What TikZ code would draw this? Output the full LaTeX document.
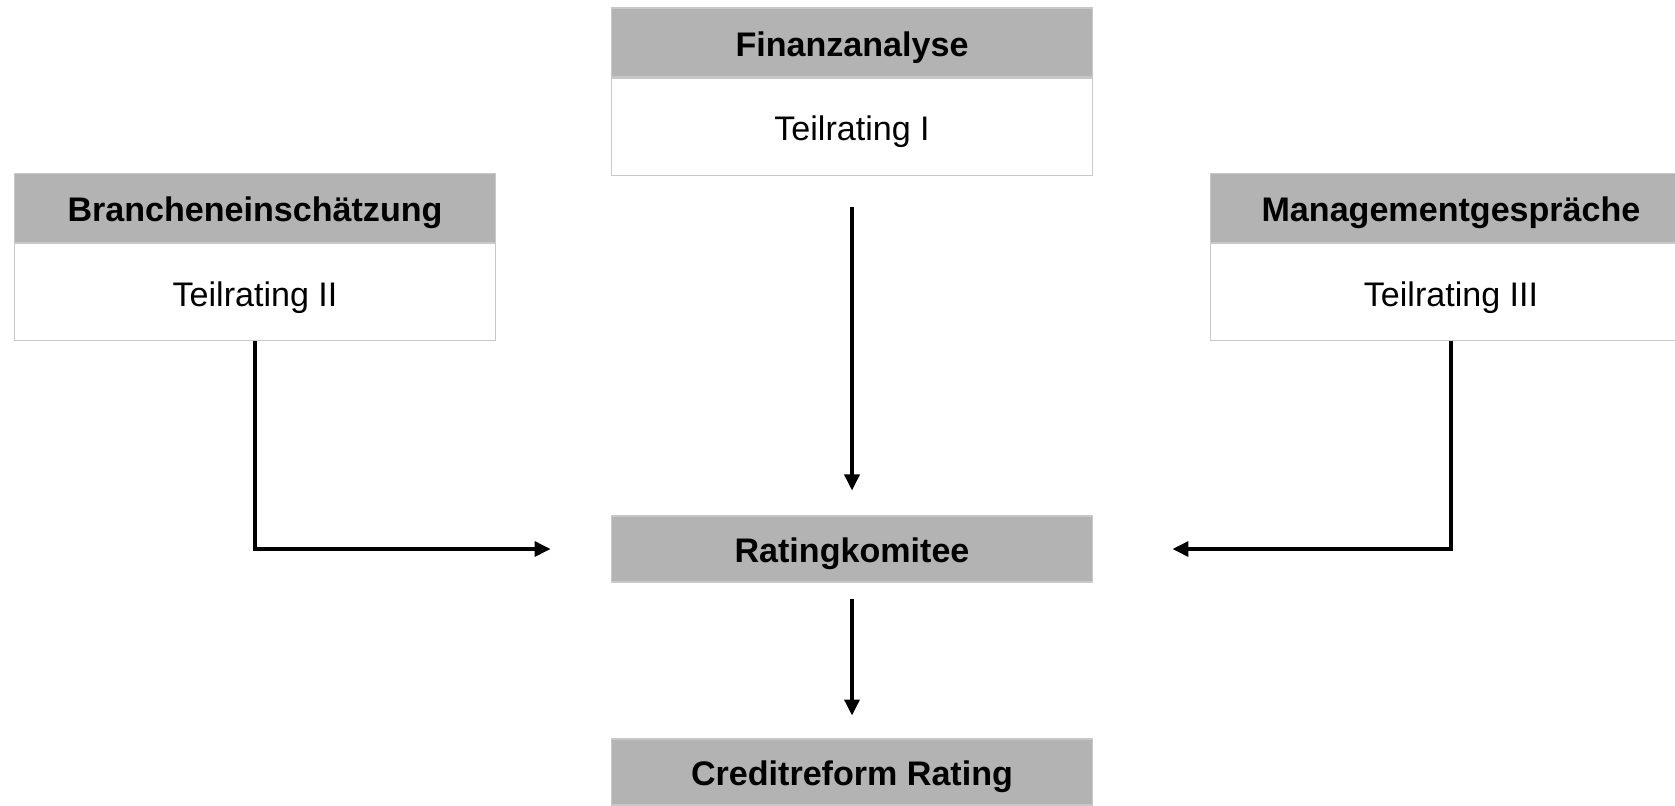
\documentclass[tikz,border=0pt]{standalone}
\usepackage{fontspec}
\setmainfont{Liberation Sans}
\usetikzlibrary{arrows.meta, positioning}
\definecolor{headgray}{RGB}{179,179,179}
\definecolor{framegray}{RGB}{200,200,200}

\begin{document}
\begin{tikzpicture}[x=0.02cm, y=-0.02cm,
    every node/.style={inner sep=0pt, text height=17.1pt, text depth=1.2pt, font=\fontsize{19.4}{23}\selectfont},
    head/.style={fill=headgray, draw=framegray, line width=0.6pt, minimum width=9.64cm, minimum height=1.38cm, font=\fontsize{19.4}{23}\selectfont\bfseries},
    body/.style={fill=white, draw=framegray, line width=0.6pt, minimum width=9.64cm, minimum height=1.94cm},
    flow/.style={line width=2pt, -{Triangle[length=0.32cm, width=0.3cm]}}]
  % page frame, the right box runs past the edge
  \path[use as bounding box, clip] (0,0) rectangle (1675,805);

  % three sources with their partial ratings
  \node[head] (finanz) at (852,42.5) {Finanzanalyse};
  \node[body, below=0pt of finanz] (teil1) {Teilrating I};
  \node[head] (branche) at (255,208) {Brancheneinschätzung};
  \node[body, below=0pt of branche] (teil2) {Teilrating II};
  \node[head] (management) at (1451,208) {Managementgespräche};
  \node[body, below=0pt of management] (teil3) {Teilrating III};

  % committee and result
  \node[head, minimum height=1.32cm] (komitee) at (852,549) {Ratingkomitee};
  \node[head, minimum height=1.32cm] (ergebnis) at (852,772) {Creditreform Rating};

  % flows
  \draw[flow, shorten <=0.62cm, shorten >=0.5cm] (teil1) -- (komitee);
  \draw[flow, shorten >=1.2cm] (teil2.south) |- (komitee.west);
  \draw[flow, shorten >=1.58cm] (teil3.south) |- (komitee.east);
  \draw[flow, shorten <=0.32cm, shorten >=0.46cm] (komitee) -- (ergebnis);
\end{tikzpicture}
\end{document}
